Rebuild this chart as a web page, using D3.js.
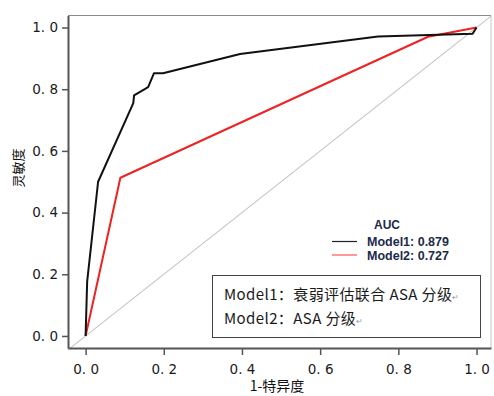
<!DOCTYPE html>
<html>
<head>
<meta charset="utf-8">
<script src="https://cdn.jsdelivr.net/npm/d3@7"></script>
<style>
  body { margin: 0; background: #fff; }
  svg { display: block; }
</style>
</head>
<body>
<div id="chart"></div>
<script>
// ROC points: [1-specificity, sensitivity]
const model1Fpr = [0, 0.004, 0.032, 0.122, 0.124, 0.160, 0.175, 0.198, 0.395, 0.748, 0.990, 1.0];
const model1Tpr = [0, 0.176, 0.500, 0.755, 0.780, 0.807, 0.852, 0.852, 0.914, 0.971, 0.980, 1.0];
const model2Fpr = [0, 0.089, 0.876, 1.0];
const model2Tpr = [0, 0.513, 0.970, 1.0];
const xTicks = [0, 0.2, 0.4, 0.6, 0.8, 1.0];
const yTicks = [0, 0.2, 0.4, 0.6, 0.8, 1.0];
const legendNames = ['Model1: 0.879', 'Model2: 0.727'];
const noteLines = ['Model1：衰弱评估联合 ASA 分级', 'Model2：ASA 分级'];

const width = 494, height = 396;
const margin = { top: 15.5, right: 3, bottom: 48, left: 68 };

const svg = d3.select('#chart').append('svg')
  .attr('width', width)
  .attr('height', height);

const x = d3.scaleLinear().domain([-0.045, 1.037]).range([margin.left, width - margin.right]);
const y = d3.scaleLinear().domain([-0.039, 1.039]).range([height - margin.bottom, margin.top]);

const tickFmt = d => d3.format('.1f')(d).replace('.', '. ');

// frame: top edge grey, right edge lighter
svg.append('path')
  .attr('d', `M${x.range()[0]},${y.range()[1]}H${x.range()[1]}`)
  .attr('fill', 'none')
  .attr('stroke', '#8a8a8a')
  .attr('stroke-width', 1.2);

svg.append('path')
  .attr('d', `M${x.range()[1]},${y.range()[1]}V${y.range()[0]}`)
  .attr('stroke', '#c8c8c8')
  .attr('stroke-width', 1);

// reference diagonal
svg.append('line')
  .attr('x1', x(-0.045)).attr('y1', y(-0.045))
  .attr('x2', x(1.037)).attr('y2', y(1.037))
  .attr('stroke', '#c4c4c4')
  .attr('stroke-width', 1.1);

const xAxis = svg.append('g')
  .attr('transform', `translate(0,${y.range()[0]})`)
  .call(d3.axisBottom(x).tickValues(xTicks).tickFormat(tickFmt).tickSize(7).tickSizeOuter(0));

const yAxis = svg.append('g')
  .attr('transform', `translate(${x.range()[0]},0)`)
  .call(d3.axisLeft(y).tickValues(yTicks).tickFormat(tickFmt).tickSize(6).tickSizeOuter(0));

[xAxis, yAxis].forEach(g => {
  g.select('.domain').attr('stroke', '#555').attr('stroke-width', 2);
  g.selectAll('.tick line').attr('stroke', '#555').attr('stroke-width', 1.5);
  g.selectAll('.tick text')
    .attr('fill', '#1a1a1a')
    .style('font-family', '"DejaVu Sans", sans-serif')
    .style('font-size', '13.5px');
});
xAxis.selectAll('.tick text').attr('dy', '1.15em');
yAxis.selectAll('.tick text').attr('x', -10);

// ROC curves
const line = d3.line().x(d => x(d[0])).y(d => y(d[1]));
const series = [
  { pts: d3.zip(model2Fpr, model2Tpr), color: '#ee2222' },
  { pts: d3.zip(model1Fpr, model1Tpr), color: '#111111' }
];
svg.selectAll('.roc')
  .data(series)
  .enter().append('path')
  .attr('class', 'roc')
  .attr('d', d => line(d.pts))
  .attr('fill', 'none')
  .attr('stroke', d => d.color)
  .attr('stroke-width', 2)
  .attr('stroke-linejoin', 'round');

// axis titles
svg.append('text')
  .attr('x', 277).attr('y', 391)
  .attr('text-anchor', 'middle')
  .style('font-family', '"Noto Sans CJK SC", sans-serif')
  .style('font-size', '14px')
  .attr('fill', '#111')
  .text('1-特异度');

svg.append('text')
  .attr('transform', 'translate(23,168) rotate(-90)')
  .attr('text-anchor', 'middle')
  .style('font-family', '"Noto Sans CJK SC", sans-serif')
  .style('font-size', '13px')
  .attr('fill', '#111')
  .text('灵敏度');

// AUC legend
const leg = svg.append('g').style('font-family', 'Arial, "Liberation Sans", sans-serif');
leg.append('text')
  .attr('x', 387).attr('y', 229)
  .attr('text-anchor', 'middle')
  .style('font-size', '12px')
  .style('font-weight', 'bold')
  .attr('fill', '#1c2a48')
  .text('AUC');
const legRows = leg.selectAll('.row')
  .data(legendNames)
  .enter().append('g')
  .attr('transform', (d, i) => `translate(0,${241.5 + i * 13.5})`);
legRows.append('line')
  .attr('x1', 332).attr('x2', 357)
  .attr('stroke', (d, i) => i === 0 ? '#222' : '#ff5555')
  .attr('stroke-width', 1.2);
legRows.append('text')
  .attr('x', 367).attr('y', 4.5)
  .style('font-size', '12.5px')
  .style('font-weight', 'bold')
  .attr('fill', '#1c2a48')
  .text(d => d);

// note box
svg.append('rect')
  .attr('x', 212.5).attr('y', 275.5)
  .attr('width', 268).attr('height', 62)
  .attr('fill', '#fff')
  .attr('stroke', '#444')
  .attr('stroke-width', 1);
const note = svg.selectAll('.note')
  .data(noteLines)
  .enter().append('text')
  .attr('class', 'note')
  .attr('x', 224)
  .attr('y', (d, i) => 299.5 + i * 24)
  .style('font-family', '"Noto Sans CJK SC", sans-serif')
  .style('font-size', '15px')
  .style('letter-spacing', '0.4px')
  .attr('fill', '#1a1a1a');
note.append('tspan').text(d => d);
note.append('tspan')
  .style('font-size', '8px')
  .attr('fill', '#999')
  .text('↵');
</script>
</body>
</html>
